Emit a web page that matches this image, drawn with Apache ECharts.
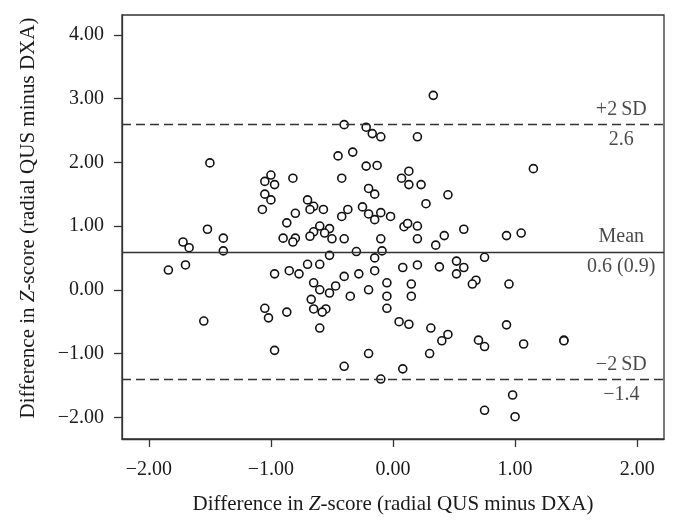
<!DOCTYPE html>
<html><head><meta charset="utf-8">
<script src="https://cdn.jsdelivr.net/npm/echarts@6/dist/echarts.min.js"></script>
<style>html,body{margin:0;padding:0;background:#fff}#c{width:678px;height:529px}</style>
</head><body><div id="c"></div>
<script>
const xValues = [0.33,-0.40,-0.22,-0.17,-0.10,0.20,-0.45,-0.33,-1.50,-0.22,-0.13,1.15,-1.00,-1.05,-0.97,-0.82,-0.42,0.07,0.13,0.13,0.23,-0.20,-0.15,0.45,-1.05,-1.00,-0.70,-0.65,-0.68,-0.57,-1.07,0.27,-0.37,-0.25,-0.20,-0.10,-0.02,-0.15,-0.42,-0.80,-0.87,-0.60,-0.52,-0.65,-0.56,-0.68,-0.50,-0.40,-0.10,-0.90,-0.80,-0.82,-1.52,-1.39,-1.72,-1.67,-1.39,-1.84,-1.70,0.09,0.12,0.20,0.20,0.35,0.42,0.58,0.93,1.05,-0.30,-0.09,-0.15,-0.52,0.75,-0.70,-0.60,-0.15,0.08,0.20,0.38,0.52,0.58,0.52,-0.97,-0.85,-0.77,-0.28,-0.40,-0.65,-0.47,-0.05,0.15,0.68,0.65,0.95,-0.60,-0.52,-0.20,-0.67,-0.35,-0.05,0.15,-0.65,-0.55,-0.58,-0.05,-1.05,-1.02,-0.87,-1.55,-0.60,0.05,0.13,0.31,0.93,0.40,0.45,0.70,0.75,1.07,1.40,1.40,-0.97,-0.20,0.30,-0.40,0.08,-0.10,0.98,0.75,1.00];
const yValues = [3.05,2.59,2.55,2.45,2.40,2.40,2.10,2.16,1.99,1.94,1.95,1.90,1.80,1.70,1.65,1.75,1.75,1.75,1.86,1.65,1.65,1.59,1.50,1.49,1.50,1.41,1.41,1.31,1.26,1.26,1.26,1.35,1.26,1.30,1.19,1.21,1.15,1.10,1.15,1.20,1.05,1.00,0.96,0.91,0.89,0.84,0.80,0.80,0.80,0.81,0.81,0.75,0.95,0.81,0.75,0.66,0.61,0.31,0.39,0.99,1.04,1.00,0.80,0.70,0.85,0.95,0.85,0.89,0.60,0.61,0.50,0.54,0.51,0.40,0.40,0.30,0.35,0.39,0.36,0.45,0.35,0.25,0.25,0.30,0.25,0.25,0.21,0.11,0.06,0.11,0.09,0.15,0.09,0.09,0.00,-0.05,0.00,-0.15,-0.10,-0.10,-0.10,-0.30,-0.30,-0.35,-0.29,-0.29,-0.44,-0.35,-0.49,-0.60,-0.50,-0.54,-0.60,-0.55,-0.80,-0.70,-0.79,-0.89,-0.85,-0.79,-0.80,-0.95,-1.00,-1.00,-1.20,-1.24,-1.40,-1.65,-1.89,-1.99];
const xTicks = [-2, -1, 0, 1, 2];
const yTicks = [-2, -1, 0, 1, 2, 3, 4];
const refValues = [2.59, 0.59, -1.41];
const refTypes = ['dashed', 'solid', 'dashed'];
const refLabelsAbove = ['+2\u2009SD', 'Mean', '\u22122\u2009SD'];
const refLabelsBelow = ['2.6', '0.6 (0.9)', '\u22121.4'];
const refLabelX = 1.87;
const axisTitle = 'Difference in {i|Z}-score (radial QUS minus DXA)';

const FONT = 'Liberation Serif';
const TXT = '#1a1a1a';
const LINE = '#333';
const fmt = v => (v < 0 ? '\u2212' : '') + Math.abs(v).toFixed(2);
const points = xValues.map((x, i) => [x, yValues[i]]);

const chart = echarts.init(document.getElementById('c'), null, {renderer: 'canvas'});
const nameStyle = {
  fontFamily: FONT, fontSize: 21, color: TXT,
  rich: { i: { fontFamily: FONT, fontSize: 21, fontStyle: 'italic', color: TXT } }
};
chart.setOption({
  animation: false,
  backgroundColor: '#fff',
  grid: { left: 122, right: 14, top: 15, bottom: 90, show: true, borderColor: LINE, borderWidth: 1.3, backgroundColor: 'transparent' },
  xAxis: {
    type: 'value', min: -2.22, max: 2.22,
    name: axisTitle, nameLocation: 'middle', nameGap: 55, nameTextStyle: nameStyle,
    axisLine: { show: true, onZero: false, lineStyle: { color: LINE, width: 1.3 } },
    axisTick: { show: true, length: 8, lineStyle: { color: LINE, width: 1.3 }, customValues: xTicks },
    axisLabel: { customValues: xTicks, formatter: fmt, fontFamily: FONT, fontSize: 20, color: TXT, margin: 21 },
    splitLine: { show: false }
  },
  yAxis: {
    type: 'value', min: -2.34, max: 4.31,
    name: axisTitle, nameLocation: 'middle', nameGap: 83, nameTextStyle: Object.assign({}, nameStyle, { padding: [0, 0, 0, 18] }),
    axisLine: { show: true, onZero: false, lineStyle: { color: LINE, width: 1.3 } },
    axisTick: { show: true, length: 8, lineStyle: { color: LINE, width: 1.3 }, customValues: yTicks },
    axisLabel: { customValues: yTicks, formatter: fmt, fontFamily: FONT, fontSize: 20, color: TXT, margin: 18 },
    splitLine: { show: false }
  },
  series: [
    {
      type: 'scatter', data: points, symbol: 'circle', symbolSize: 8,
      itemStyle: { color: '#fff', borderColor: '#111', borderWidth: 1.6, opacity: 1 },
      markLine: {
        silent: true, symbol: 'none', label: { show: false },
        data: refValues.map((v, i) => ({ yAxis: v, lineStyle: { type: refTypes[i] === 'dashed' ? [9, 5] : 'solid', color: LINE, width: 1.4 } }))
      },
      z: 3
    },
    {
      type: 'scatter', data: refValues.map(v => [refLabelX, v]), symbolSize: 0, silent: true,
      label: { show: true, position: 'top', distance: 5, fontFamily: FONT, fontSize: 20, color: TXT,
        formatter: p => refLabelsAbove[p.dataIndex] }, z: 4
    },
    {
      type: 'scatter', data: refValues.map(v => [refLabelX, v]), symbolSize: 0, silent: true,
      label: { show: true, position: 'bottom', distance: 5, fontFamily: FONT, fontSize: 20, color: TXT,
        formatter: p => refLabelsBelow[p.dataIndex] }, z: 4
    }
  ]
});
</script></body></html>
